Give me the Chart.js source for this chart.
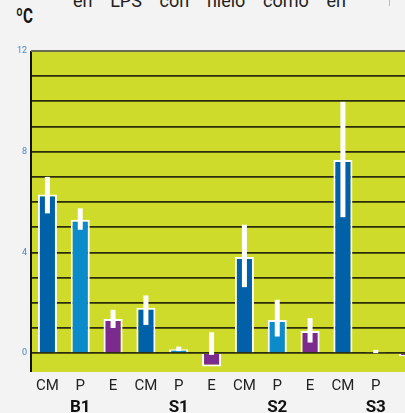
<!DOCTYPE html>
<html lang="es">
<head>
  <meta charset="UTF-8" />
  <title>Temperatura</title>
  <style>
    body {
      margin: 0;
      background-color: #f2f3f2;
      font-family: Roboto, Arial, sans-serif;
      overflow: hidden;
      width: 405px;
      height: 413px;
      position: relative;
    }
    #title {
      position: absolute;
      left: 73px;
      top: -9px;
      width: 273px;
      font-size: 18px;
      line-height: 20px;
      color: #222;
      text-align: justify;
      text-align-last: justify;
    }
    #mark {
      position: absolute;
      left: 389px;
      top: 0;
      width: 1px;
      height: 6px;
      background: #bbb;
    }
    #unit {
      position: absolute;
      left: 16px;
      top: 4px;
      font-size: 21px;
      font-weight: bold;
      color: #111;
      transform: scaleX(0.72);
      transform-origin: left top;
    }
    #wrap {
      position: absolute;
      left: 0;
      top: 0;
      width: 425px;
      height: 413px;
    }
  </style>
</head>
<body>
  <div id="title">en LPS con hielo como en</div>
  <div id="mark"></div>
  <div id="unit">ºC</div>
  <div id="wrap"><canvas id="chart"></canvas></div>

  <script src="https://cdn.jsdelivr.net/npm/chart.js"></script>
  <script>
    // categorias y grupos
    const categories = ['CM', 'P', 'E', 'CM', 'P', 'E', 'CM', 'P', 'E', 'CM', 'P', 'E'];
    const groups = ['', 'B1', '', '', 'S1', '', '', 'S2', '', '', 'S3', ''];
    // valores medios (ºC)
    const means = [6.3, 5.3, 1.36, 1.8, 0.15, -0.53, 3.82, 1.32, 0.88, 7.67, 0.04, -0.12];
    // barras de error: limite inferior y superior
    const errLow = [5.55, 4.9, 1.0, 1.12, 0.08, -0.07, 2.62, 0.66, 0.42, 5.4, 0.0, -0.12];
    const errHigh = [7.0, 5.75, 1.72, 2.29, 0.26, 0.83, 5.1, 2.12, 1.39, 9.98, 0.13, -0.12];
    const yTicks = [0, 4, 8, 12];

    const colorFor = { CM: '#0060a8', P: '#0b8bca', E: '#7b2a8d' };

    const plotBg = {
      id: 'plotBg',
      beforeDraw(chart) {
        const a = chart.chartArea;
        const ctx = chart.ctx;
        ctx.save();
        ctx.fillStyle = '#cfdb2a';
        ctx.fillRect(a.left, a.top, a.right - a.left, a.bottom - a.top);
        ctx.restore();
      }
    };

    const errorBars = {
      id: 'errorBars',
      afterDatasetsDraw(chart) {
        const ctx = chart.ctx;
        const y = chart.scales.y;
        const meta = chart.getDatasetMeta(0);
        ctx.save();
        ctx.fillStyle = '#ffffff';
        meta.data.forEach((bar, i) => {
          if (errHigh[i] === errLow[i]) return;
          const top = y.getPixelForValue(errHigh[i]);
          const bot = y.getPixelForValue(errLow[i]);
          ctx.fillRect(bar.x - 2.5, top, 5, bot - top);
        });
        ctx.restore();
      }
    };

    const axisLine = {
      id: 'axisLine',
      afterDraw(chart) {
        const a = chart.chartArea;
        const ctx = chart.ctx;
        ctx.save();
        ctx.strokeStyle = '#111';
        ctx.lineWidth = 2;
        ctx.beginPath();
        ctx.moveTo(a.left, a.top);
        ctx.lineTo(a.left, a.bottom);
        ctx.stroke();
        ctx.strokeStyle = '#6b6b5a';
        ctx.beginPath();
        ctx.moveTo(a.left, a.top);
        ctx.lineTo(a.right, a.top);
        ctx.stroke();
        ctx.restore();
      }
    };

    new Chart(document.getElementById('chart'), {
      type: 'bar',
      data: {
        labels: categories,
        datasets: [{
          data: means,
          backgroundColor: categories.map(c => colorFor[c]),
          borderColor: '#ffffff',
          borderWidth: 2,
          barPercentage: 0.58,
          categoryPercentage: 1.0
        }]
      },
      options: {
        responsive: true,
        maintainAspectRatio: false,
        animation: false,
        layout: { padding: { top: 51, right: 0, left: 0, bottom: 0 } },
        plugins: { legend: { display: false }, tooltip: { enabled: false } },
        scales: {
          x: {
            position: 'bottom',
            grid: { display: false, drawTicks: false },
            border: { display: false },
            ticks: { color: '#222', font: { family: 'Roboto', size: 15 }, padding: 5, maxRotation: 0, autoSkip: false },
            afterFit(s) { s.height = 22; }
          },
          x2: {
            type: 'category',
            labels: groups,
            position: 'bottom',
            grid: { display: false, drawTicks: false },
            border: { display: false },
            ticks: { color: '#111', font: { family: 'Roboto', size: 17, weight: 'bold' }, padding: 4, maxRotation: 0, autoSkip: false },
            afterFit(s) { s.height = 19; }
          },
          y: {
            min: -0.75,
            max: 12,
            afterBuildTicks(s) {
              s.ticks = [];
              for (let v = 0; v <= 12; v++) s.ticks.push({ value: v });
            },
            ticks: {
              color: '#4a86c5',
              font: { family: 'Roboto', size: 9 },
              padding: 4,
              callback: v => yTicks.includes(v) ? String(v) : ''
            },
            grid: { color: '#2b2d0c', lineWidth: 1.8, drawTicks: false },
            border: { display: false },
            afterFit(s) { s.width = 31; }
          }
        }
      },
      plugins: [plotBg, errorBars, axisLine]
    });
  </script>
</body>
</html>
